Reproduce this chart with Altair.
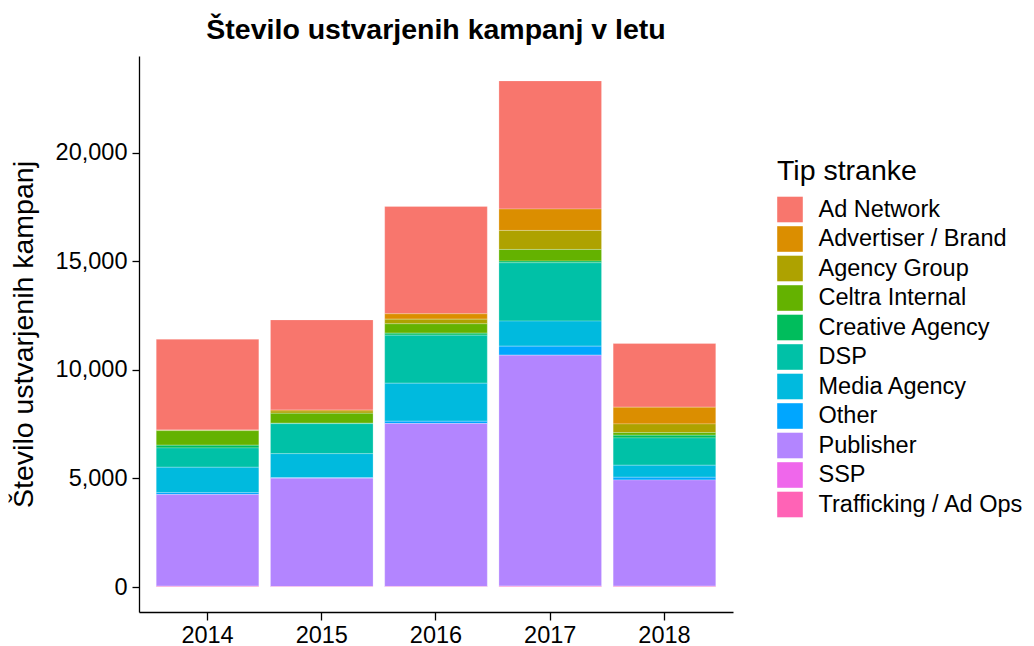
import altair as alt
import pandas as pd

years = ["2014", "2015", "2016", "2017", "2018"]
types = ["Ad Network", "Advertiser / Brand", "Agency Group", "Celtra Internal",
         "Creative Agency", "DSP", "Media Agency", "Other", "Publisher", "SSP",
         "Trafficking / Ad Ops"]
colors = ["#F8766D", "#DB8E00", "#AEA200", "#64B200", "#00BD5C", "#00C1A7",
          "#00BADE", "#00A6FF", "#B385FF", "#EF67EB", "#FF63B6"]

ad_network   = [4180, 4150, 4944, 5900, 2932]
advertiser   = [15, 50, 246, 985, 769]
agency_group = [15, 100, 215, 876, 399]
celtra       = [670, 460, 430, 535, 122]
creative     = [125, 20, 92, 78, 124]
dsp          = [890, 1380, 2212, 2687, 1258]
media        = [1170, 1100, 1751, 1152, 553]
other        = [90, 30, 107, 414, 124]
publisher    = [4215, 4990, 7500, 10630, 4890]
ssp          = [20, 10, 15, 25, 20]
trafficking  = [20, 10, 12, 22, 21]

series = [ad_network, advertiser, agency_group, celtra, creative, dsp, media,
          other, publisher, ssp, trafficking]

rows = []
for i, (t, vals) in enumerate(zip(types, series)):
    for y, v in zip(years, vals):
        rows.append({"leto": y, "tip": t, "n": v, "idx": i})
df = pd.DataFrame(rows)

font = "Liberation Sans"

chart = alt.Chart(df).mark_bar(size=102.6, stroke="white", strokeWidth=0.6,
                               strokeOpacity=0.4).encode(
    x=alt.X("leto:N", title=None, sort=years,
            scale=alt.Scale(paddingInner=0.1, paddingOuter=0.15),
            axis=alt.Axis(labelAngle=0, labelFontSize=23.5, labelColor="#000",
                          labelFont=font, domainColor="#000", domainWidth=1.3,
                          tickColor="#000", tickSize=8, tickWidth=1.3,
                          labelPadding=3)),
    y=alt.Y("sum(n):Q", title="Število ustvarjenih kampanj", stack="zero",
            scale=alt.Scale(domain=[-1150, 24450], nice=False, zero=False),
            axis=alt.Axis(values=[0, 5000, 10000, 15000, 20000], format=",.0f",
                          grid=False, labelFontSize=23.5, labelColor="#000",
                          labelFont=font, titleFont=font, titleFontSize=28.5,
                          titleFontWeight="normal", titleColor="#000",
                          titlePadding=17, domainColor="#000", domainWidth=1.3,
                          tickColor="#000", tickSize=7, tickWidth=1.3,
                          labelPadding=5)),
    color=alt.Color("tip:N", sort=types, title="Tip stranke",
                    scale=alt.Scale(domain=types, range=colors),
                    legend=alt.Legend(orient="none", legendX=638, legendY=101,
                                      symbolType="square", symbolSize=655,
                                      symbolStrokeWidth=0, labelFontSize=23.5,
                                      titleFontSize=28.5, titleFontWeight="normal",
                                      labelFont=font, titleFont=font,
                                      labelColor="#000", titleColor="#000",
                                      rowPadding=3.5, labelOffset=15.5,
                                      titlePadding=11, padding=0,
                                      labelLimit=400)),
    order=alt.Order("idx:Q", sort="descending"),
).properties(
    width=594, height=556,
    title=alt.TitleParams("Število ustvarjenih kampanj v letu", fontSize=28.5,
                          font=font, fontWeight="bold", color="#000",
                          anchor="middle", offset=12),
    autosize=alt.AutoSizeParams(type="none"),
    padding={"left": 131, "top": 48, "right": 290, "bottom": 38},
).configure_view(stroke=None)

chart.save("out.html", embed_options={"renderer": "svg", "actions": False})
